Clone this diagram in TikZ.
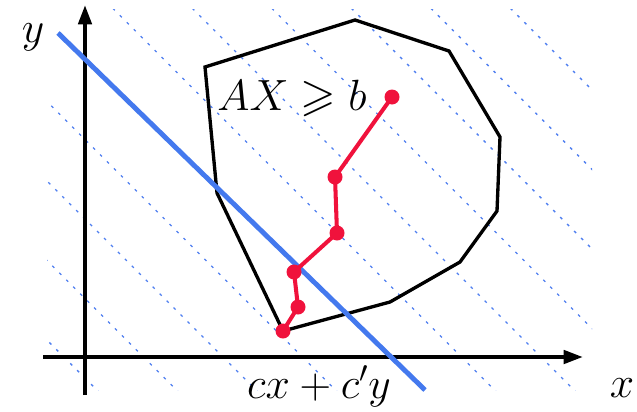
\documentclass[tikz,border=0pt]{standalone}
\usepackage{amssymb}
\usetikzlibrary{arrows.meta}
\definecolor{ink}{HTML}{000000}
\definecolor{walkRed}{HTML}{F0123C}
\definecolor{costBlue}{HTML}{4479EE}
\definecolor{levelBlue}{HTML}{4F7FF0}
\tikzset{
  axis/.style={-{Triangle[length=11pt,width=7.5pt]},draw=ink,line width=2.3pt},
  region/.style={draw=ink,line width=1.9pt,line join=miter},
  level/.style={draw=levelBlue,line width=0.8pt,dash pattern=on 1.6pt off 4pt},
  objective/.style={draw=costBlue,line width=2.8pt},
  iterate/.style={circle,fill=walkRed,inner sep=0pt,minimum size=0.3cm},
  walk/.style={draw=walkRed,line width=2.3pt,line join=round},
  mathLabel/.style={text=ink,font=\fontsize{26}{31}\selectfont}
}

\begin{document}
\begin{tikzpicture}
  \useasboundingbox (-1.7,-1.08) rectangle (11.04,7.14);

  % level lines of the objective, clipped to the plot area
  \begin{scope}
    \clip (-0.76,-0.66) rectangle (10.14,6.94);
    \foreach \i in {0,1,2,3,5,6,7,8,9,10}
      \draw[level] ({-0.42+1.59*\i+1},-1) -- ++(-18,18);
  \end{scope}

  % axes
  \draw[axis] (-0.84,0) -- (9.96,0);
  \draw[axis] (0,-0.76) -- (0,7.04);
  \node[mathLabel] (xlab) at (10.74,-0.62) {$x$};
  \node[mathLabel] (ylab) at (-1.04,6.40) {$y$};

  % feasible region
  \draw[region] (2.40,5.80) -- (5.40,6.74) -- (7.28,6.12) -- (8.30,4.40)
    -- (8.24,2.92) -- (7.50,1.90) -- (6.10,1.10) -- (3.96,0.52)
    -- (2.64,3.28) -- cycle;
  \node[mathLabel,anchor=base] (feasible) at (4.14,4.94) {$AX \geqslant b$};

  % objective line
  \draw[objective] (-0.54,6.48) -- (6.80,-0.66);
  \node[mathLabel,anchor=base] (cost) at (4.68,-0.82) {$cx+c'y$};

  % path of the iterates
  \node[iterate] (v1) at (6.14,5.20) {};
  \node[iterate] (v2) at (5.00,3.60) {};
  \node[iterate] (v3) at (5.04,2.48) {};
  \node[iterate] (v4) at (4.18,1.70) {};
  \node[iterate] (v5) at (4.26,1.00) {};
  \node[iterate] (v6) at (3.96,0.52) {};
  \draw[walk] (v1.center) -- (v2.center) -- (v3.center) -- (v4.center)
    -- (v5.center) -- (v6.center);
\end{tikzpicture}
\end{document}
